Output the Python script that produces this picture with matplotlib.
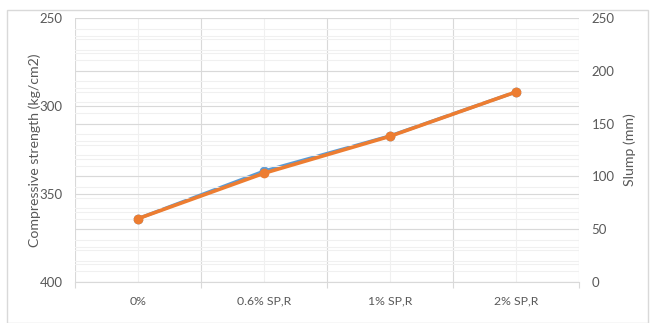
import matplotlib
matplotlib.use("Agg")
import matplotlib.pyplot as plt
from matplotlib.patches import Rectangle
from matplotlib.ticker import MultipleLocator, FixedLocator
import numpy as np

categories = ["0%", "0.6% SP,R", "1% SP,R", "2% SP,R"]
compressive = [364, 337, 317, 292]
slump = [60, 103, 138, 180]

blue = "#5B9BD5"
orange = "#ED7D31"
txt = "#595959"
grid_major = "#D9D9D9"
grid_minor = "#F0F0F0"

plt.rcParams['font.family'] = ['Lato', 'DejaVu Sans']

fig = plt.figure(figsize=(6.53, 3.23), dpi=100)
fig.patches.append(Rectangle((7/653, 0), 641/653, 313/323, transform=fig.transFigure,
                             fill=False, edgecolor="#D9D9D9", lw=1))

ax = fig.add_axes([75/653, 1-282/323, 504/653, 264/323])
ax2 = ax.twinx()

x = np.arange(len(categories))
ax.set_xlim(-0.5, len(categories)-0.5)
ax.set_ylim(400, 250)
ax2.set_ylim(0, 250)

ax.yaxis.set_major_locator(MultipleLocator(50))
ax.yaxis.set_minor_locator(MultipleLocator(10))
ax2.yaxis.set_major_locator(MultipleLocator(50))
ax2.yaxis.set_minor_locator(MultipleLocator(10))
ax.set_xticks(x)
ax.set_xticklabels(categories)
ax.xaxis.set_minor_locator(FixedLocator(np.arange(-0.5, len(categories), 1)))

ax.grid(which='major', axis='y', color=grid_major, lw=0.8)
ax.grid(which='minor', axis='y', color=grid_minor, lw=0.8)
ax2.grid(which='major', axis='y', color=grid_major, lw=0.8)
ax2.grid(which='minor', axis='y', color=grid_minor, lw=0.8)
ax.grid(which='minor', axis='x', color=grid_major, lw=0.8)
ax.grid(which='major', axis='x', color=grid_minor, lw=0.8)
ax.set_axisbelow(True)
ax2.set_axisbelow(True)

for a in (ax, ax2):
    for s in a.spines.values():
        s.set_visible(False)
ax.spines['bottom'].set_visible(True)
ax.spines['bottom'].set_color(grid_major)

ax.tick_params(axis='y', which='both', length=0, labelsize=9.5, labelcolor=txt, pad=9)
ax2.tick_params(axis='y', which='both', length=0, labelsize=9.5, labelcolor=txt, pad=9)
ax.tick_params(axis='x', which='major', length=0, labelsize=8.8, labelcolor=txt, pad=10)
ax.tick_params(axis='x', which='minor', length=4, color=grid_major, width=0.8)

ax.plot(x, compressive, color=blue, lw=2.4, marker='o', ms=6, zorder=3)
ax2.plot(x, slump, color=orange, lw=2.6, marker='o', ms=6, zorder=3)

ax.set_ylabel("Compressive strength (kg/cm2)", fontsize=10.2, color=txt, labelpad=-1)
ax2.set_ylabel("Slump (mm)", fontsize=10.2, color=txt, labelpad=6)

fig.savefig("out.png", dpi=100)
